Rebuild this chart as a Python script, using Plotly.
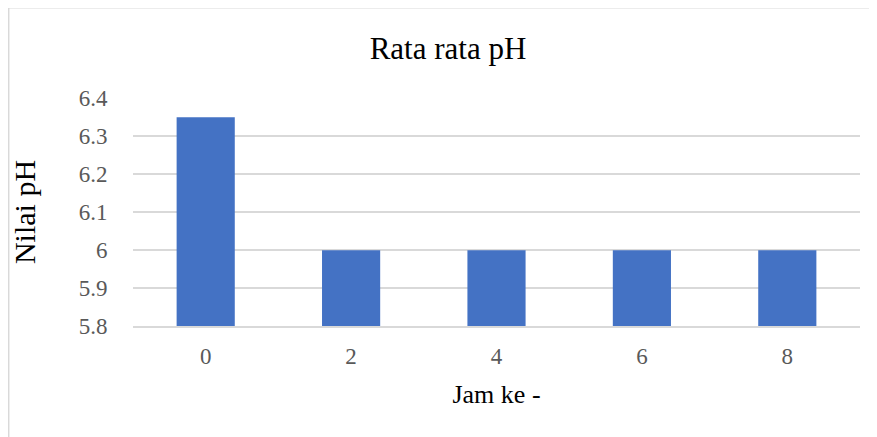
import plotly.graph_objects as go

categories = ["0", "2", "4", "6", "8"]
ph_values = [6.35, 6.0, 6.0, 6.0, 6.0]
y_ticks = [5.8, 5.9, 6.0, 6.1, 6.2, 6.3, 6.4]
y_tick_labels = ["5.8", "5.9", "6", "6.1", "6.2", "6.3", "6.4"]

# page has an 8px body margin; figure occupies page x 8..877, y 8..437
OFF = 8
W, H = 877 - OFF, 437 - OFF
L, R, T, B = 133 - OFF, 17, 98 - OFF, 111
pw, ph = W - L - R, H - T - B

def px_x(x):
    return (x - OFF - L) / pw

def px_y(y):
    return (H - B - (y - OFF)) / ph

fig = go.Figure(go.Bar(
    x=categories, y=ph_values,
    marker=dict(color="#4472C4", line=dict(width=0)),
))

serif = "Liberation Serif"
fig.update_layout(
    width=W, height=H,
    margin=dict(l=L, r=R, t=T, b=B),
    paper_bgcolor="white", plot_bgcolor="white",
    bargap=0.6,
    showlegend=False,
    font=dict(family=serif, size=23, color="#595959"),
    title=dict(text="Rata rata pH", x=(448 - OFF) / W, xanchor="center", y=1 - (48 - OFF) / H, yanchor="middle",
               font=dict(family=serif, size=31, color="#000000")),
    xaxis=dict(type="category", showgrid=False, showline=True, linecolor="#d9d9d9", linewidth=1.5,
               ticks="outside", ticklen=9, tickcolor="rgba(0,0,0,0)",
               tickfont=dict(family=serif, size=23, color="#595959"),
               title=dict(text="Jam ke -", font=dict(family=serif, size=26, color="#000000"), standoff=16)),
    yaxis=dict(range=[5.8, 6.401], tickmode="array", tickvals=y_ticks, ticktext=y_tick_labels,
               showgrid=True, gridcolor="#d9d9d9", gridwidth=1.5, zeroline=False,
               ticks="outside", ticklen=20, tickcolor="rgba(0,0,0,0)",
               tickfont=dict(family=serif, size=23, color="#595959"),
               title=dict(text="Nilai pH", font=dict(family=serif, size=30, color="#000000"), standoff=36)),
    shapes=[dict(type="rect", xref="paper", yref="paper",
                 x0=px_x(8.7), x1=px_x(890), y0=px_y(450), y1=px_y(7.7),
                 line=dict(color="#d9d9d9", width=1.5), fillcolor="rgba(0,0,0,0)", layer="below")],
)
fig.write_html("out.html")
